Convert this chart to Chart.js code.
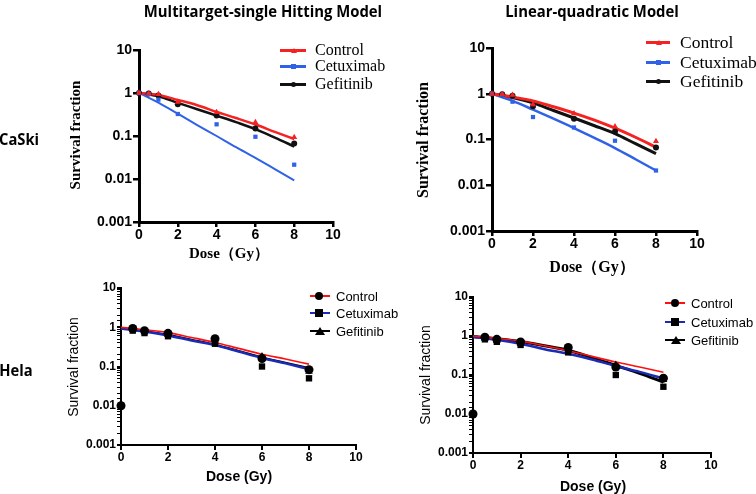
<!DOCTYPE html>
<html><head><meta charset="utf-8">
<script src="https://cdn.jsdelivr.net/npm/chart.js@4.4.1/dist/chart.umd.min.js"></script>
<style>
html,body{margin:0;padding:0;background:#fff;}
#wrap{position:relative;width:756px;height:494px;overflow:hidden;background:#fff;}
canvas{position:absolute;left:0;top:0;}
.t{position:absolute;white-space:nowrap;transform:translate(-50%,-50%);color:#000;line-height:1;}
.rot{transform:translate(-50%,-50%) rotate(-90deg);}
.title{font-family:"Open Sans",sans-serif;font-weight:700;font-size:16.5px;transform:translate(-50%,-50%) scaleX(0.9);}
.row{font-family:"Open Sans",sans-serif;font-weight:700;font-size:16px;transform:translate(-50%,-50%) scaleX(0.92);}
.serifb{font-family:"Liberation Serif","Times New Roman",serif;font-weight:700;font-size:15px;}
.sans{font-family:"Liberation Sans",Arial,sans-serif;font-size:14px;}
.sansb{font-family:"Liberation Sans",Arial,sans-serif;font-weight:700;font-size:14px;}
.lg{position:absolute;}
.lg .ln{position:absolute;height:3px;}
.lg .mk{position:absolute;}
.lg .tx{position:absolute;white-space:nowrap;line-height:1;transform:translateY(-50%);}
</style></head>
<body><div id="wrap">
<canvas id="c1" width="756" height="494"></canvas>
<canvas id="c2" width="756" height="494"></canvas>
<canvas id="c3" width="756" height="494"></canvas>
<canvas id="c4" width="756" height="494"></canvas>

<div class="t title" style="left:263px;top:11px;">Multitarget-single Hitting Model</div>
<div class="t title" style="left:592px;top:11px;">Linear-quadratic Model</div>
<div class="t row" style="left:19px;top:139px;">CaSki</div>
<div class="t row" style="left:16px;top:370px;">Hela</div>

<div class="t serifb rot" style="left:75px;top:135px;">Survival fraction</div>
<div class="t serifb" style="left:229px;top:253px;">Dose（Gy）</div>
<div class="t serifb rot" style="left:423px;top:140px;font-size:16px;">Survival fraction</div>
<div class="t serifb" style="left:592px;top:267px;font-size:16px;">Dose（Gy）</div>

<div class="t sans rot" style="left:73px;top:367px;">Survival fraction</div>
<div class="t sansb" style="left:239px;top:476px;">Dose (Gy)</div>
<div class="t sans rot" style="left:425px;top:375px;">Survival fraction</div>
<div class="t sansb" style="left:593px;top:486px;">Dose (Gy)</div>

<div id="legends"></div>
</div>
<script>
// ---------------- data ----------------
const DOSES = [0, 0.5, 1, 2, 4, 6, 8];
const FIT_DOSES = [0, 1, 2, 3, 4, 5, 6, 7, 8];
const X_TICKS = [0, 2, 4, 6, 8, 10];
const Y_TICKS = [0.001, 0.01, 0.1, 1, 10];
const SERIES = ["Control", "Cetuximab", "Gefitinib"];

// CaSki, multitarget-single hitting model
const caskiMtshControlPts = [1, 0.98, 0.93, 0.62, 0.356, 0.21, 0.093];
const caskiMtshCetuximabPts = [1, 0.95, 0.70, 0.325, 0.187, 0.096, 0.0215];
const caskiMtshGefitinibPts = [1, 0.97, 0.88, 0.55, 0.30, 0.15, 0.067];
const caskiMtshControlFit = [1, 0.9, 0.69, 0.52, 0.365, 0.262, 0.185, 0.125, 0.085];
const caskiMtshCetuximabFit = [1, 0.6, 0.33, 0.18, 0.1, 0.055, 0.031, 0.017, 0.0093];
const caskiMtshGefitinibFit = [1, 0.84, 0.59, 0.42, 0.297, 0.21, 0.145, 0.092, 0.057];

// CaSki, linear-quadratic model
const caskiLqControlPts = [1, 0.97, 0.94, 0.58, 0.37, 0.193, 0.091];
const caskiLqCetuximabPts = [1, 0.95, 0.67, 0.31, 0.183, 0.094, 0.021];
const caskiLqGefitinibPts = [1, 0.97, 0.9, 0.53, 0.284, 0.15, 0.067];
const caskiLqControlFit = [1, 0.85, 0.70, 0.52, 0.378, 0.265, 0.177, 0.112, 0.068];
const caskiLqCetuximabFit = [1, 0.7, 0.45, 0.285, 0.178, 0.108, 0.065, 0.037, 0.021];
const caskiLqGefitinibFit = [1, 0.83, 0.63, 0.43, 0.295, 0.2, 0.134, 0.081, 0.049];

// Hela (measured points, both models)
const helaControlPts = [0.01, 0.93, 0.82, 0.70, 0.51, 0.16, 0.083];
const helaCetuximabPts = [0.01, 0.82, 0.71, 0.59, 0.38, 0.10, 0.05];
const helaGefitinibPts = [0.01, 0.88, 0.76, 0.64, 0.44, 0.18, 0.075];
// Hela fits
const helaMtshControlFit = [1, 0.86, 0.73, 0.55, 0.41, 0.29, 0.205, 0.155, 0.115];
const helaMtshCetuximabFit = [0.93, 0.78, 0.62, 0.46, 0.35, 0.24, 0.165, 0.12, 0.086];
const helaMtshGefitinibFit = [0.95, 0.8, 0.64, 0.48, 0.36, 0.25, 0.17, 0.125, 0.092];
const helaLqControlFit = [1, 0.87, 0.74, 0.56, 0.42, 0.3, 0.215, 0.16, 0.118];
const helaLqCetuximabFit = [0.95, 0.79, 0.63, 0.46, 0.35, 0.25, 0.17, 0.12, 0.082];
const helaLqGefitinibFit = [0.97, 0.85, 0.72, 0.56, 0.43, 0.28, 0.175, 0.11, 0.066];

// ---------------- helpers ----------------
const xy = (xs, ys) => xs.map((x, i) => ({x: x, y: ys[i]}));
const isDecade = v => Math.abs(Math.log10(v) - Math.round(Math.log10(v))) < 1e-6;
const W = 756, H = 494, YW = 60, XH = 30;

function makeChart(id, area, sets, style) {
  const datasets = [];
  sets.forEach((s, i) => {
    datasets.push({
      label: s.name + " fit", data: xy(FIT_DOSES, s.fit), showLine: true,
      borderColor: s.lineColor, borderWidth: s.lineWidth, pointRadius: 0,
      cubicInterpolationMode: "monotone", fill: false, order: 2
    });
  });
  sets.forEach((s, i) => {
    datasets.push({
      label: s.name, data: xy(DOSES, s.pts), showLine: false,
      pointStyle: s.marker, pointRadius: s.radius, pointBorderWidth: 0,
      backgroundColor: s.markerColor, borderColor: s.markerColor, order: 1, clip: false
    });
  });
  const tickFont = {family: "'Liberation Sans', Arial, sans-serif", weight: "bold", size: style.tickSize};
  new Chart(document.getElementById(id), {
    type: "scatter",
    data: {datasets: datasets},
    options: {
      responsive: false, animation: false, devicePixelRatio: 1,
      layout: {padding: {left: area.l - YW, right: W - area.r, top: area.t, bottom: H - area.b - XH}},
      plugins: {legend: {display: false}, tooltip: {enabled: false}},
      scales: {
        x: {
          type: "linear", min: 0, max: 10,
          afterFit: s => { s.height = XH; },
          afterBuildTicks: s => { s.ticks = X_TICKS.map(v => ({value: v})); },
          border: {display: true, color: "#000", width: style.axisWidth},
          grid: {display: true, drawOnChartArea: false, drawTicks: true, tickLength: 5, color: "#000", lineWidth: style.tickWidth},
          ticks: {color: "#000", font: tickFont, padding: 0, maxRotation: 0, autoSkip: false}
        },
        y: {
          type: "logarithmic", min: 0.001, max: 10,
          afterFit: s => { s.width = YW; },
          afterBuildTicks: s => {
            if (!style.minor) s.ticks = Y_TICKS.map(v => ({value: v}));
          },
          border: {display: true, color: "#000", width: style.axisWidth},
          grid: {display: true, drawOnChartArea: false, drawTicks: true, tickLength: style.minor ? 4 : 6, color: "#000",
                 lineWidth: c => (c.tick && isDecade(c.tick.value)) ? style.tickWidth : 1},
          ticks: {color: "#000", font: tickFont, padding: 1, autoSkip: false,
                  callback: v => isDecade(v) ? String(Number(v.toPrecision(1))) : ""}
        }
      }
    }
  });
}

const topStyle = {tickSize: 14, axisWidth: 3, tickWidth: 2.5, minor: false};
const botStyle = {tickSize: 12, axisWidth: 2, tickWidth: 2, minor: true};
const RED = "#f52222", BLUE = "#2f62e6", DBLUE = "#1a2cb5";

makeChart("c1", {l: 139, r: 333, t: 50, b: 222}, [
  {name: "Control", pts: caskiMtshControlPts, fit: caskiMtshControlFit, lineColor: RED, lineWidth: 2.5, marker: "triangle", radius: 3.5, markerColor: RED},
  {name: "Cetuximab", pts: caskiMtshCetuximabPts, fit: caskiMtshCetuximabFit, lineColor: BLUE, lineWidth: 2, marker: "rect", radius: 3, markerColor: BLUE},
  {name: "Gefitinib", pts: caskiMtshGefitinibPts, fit: caskiMtshGefitinibFit, lineColor: "#111", lineWidth: 2.5, marker: "circle", radius: 3, markerColor: "#111"}
], topStyle);

makeChart("c2", {l: 492, r: 697, t: 48, b: 231}, [
  {name: "Control", pts: caskiLqControlPts, fit: caskiLqControlFit, lineColor: RED, lineWidth: 3, marker: "triangle", radius: 3.5, markerColor: RED},
  {name: "Cetuximab", pts: caskiLqCetuximabPts, fit: caskiLqCetuximabFit, lineColor: BLUE, lineWidth: 2.5, marker: "rect", radius: 3, markerColor: BLUE},
  {name: "Gefitinib", pts: caskiLqGefitinibPts, fit: caskiLqGefitinibFit, lineColor: "#111", lineWidth: 3, marker: "circle", radius: 3, markerColor: "#111"}
], topStyle);

makeChart("c3", {l: 121, r: 356, t: 288, b: 445}, [
  {name: "Control", pts: helaControlPts, fit: helaMtshControlFit, lineColor: "#ff1010", lineWidth: 1.6, marker: "circle", radius: 4.5, markerColor: "#000"},
  {name: "Cetuximab", pts: helaCetuximabPts, fit: helaMtshCetuximabFit, lineColor: DBLUE, lineWidth: 2.5, marker: "rect", radius: 4.5, markerColor: "#000"},
  {name: "Gefitinib", pts: helaGefitinibPts, fit: helaMtshGefitinibFit, lineColor: "#000", lineWidth: 2, marker: "triangle", radius: 4.5, markerColor: "#000"}
], botStyle);

makeChart("c4", {l: 473, r: 711, t: 297, b: 453}, [
  {name: "Control", pts: helaControlPts, fit: helaLqControlFit, lineColor: "#ff1010", lineWidth: 1.6, marker: "circle", radius: 4.5, markerColor: "#000"},
  {name: "Cetuximab", pts: helaCetuximabPts, fit: helaLqCetuximabFit, lineColor: DBLUE, lineWidth: 2.5, marker: "rect", radius: 4.5, markerColor: "#000"},
  {name: "Gefitinib", pts: helaGefitinibPts, fit: helaLqGefitinibFit, lineColor: "#000", lineWidth: 3, marker: "triangle", radius: 4.5, markerColor: "#000"}
], botStyle);

// ---------------- legends (HTML) ----------------
function markerHTML(kind, size, color) {
  if (kind === "triangle")
    return `<div style="width:0;height:0;border-left:${size/2+1}px solid transparent;border-right:${size/2+1}px solid transparent;border-bottom:${size}px solid ${color};"></div>`;
  const r = kind === "circle" ? "50%" : "0";
  return `<div style="width:${size}px;height:${size}px;background:${color};border-radius:${r};"></div>`;
}
function legend(opt) {
  let html = "";
  SERIES.forEach((name, i) => {
    const y = opt.ys[i];
    html += `<div class="ln" style="left:${opt.x0}px;top:${y - opt.lw/2}px;width:${opt.x1 - opt.x0}px;height:${opt.lw}px;background:${opt.colors[i]};"></div>`;
    html += `<div class="mk" style="left:${opt.mx - opt.ms/2}px;top:${y - opt.ms/2}px;">${markerHTML(opt.markers[i], opt.ms, opt.mcolors[i])}</div>`;
    html += `<div class="tx" style="left:${opt.tx}px;top:${y}px;font:${opt.font};">${name}</div>`;
  });
  const d = document.createElement("div");
  d.className = "lg"; d.innerHTML = html;
  document.getElementById("legends").appendChild(d);
}
legend({x0: 280, x1: 306, mx: 293, ms: 5, lw: 3, ys: [50, 66, 84], tx: 315,
  colors: [RED, BLUE, "#111"], mcolors: [RED, BLUE, "#111"], markers: ["triangle", "rect", "circle"],
  font: "16px 'Liberation Serif', serif"});
legend({x0: 646, x1: 670, mx: 658, ms: 5, lw: 3, ys: [42, 62, 81], tx: 680,
  colors: [RED, BLUE, "#111"], mcolors: [RED, BLUE, "#111"], markers: ["triangle", "rect", "circle"],
  font: "17.5px 'Liberation Serif', serif"});
legend({x0: 310, x1: 330, mx: 319, ms: 8, lw: 2, ys: [296, 313, 331], tx: 336,
  colors: ["#ff1010", DBLUE, "#000"], mcolors: ["#000", "#000", "#000"], markers: ["circle", "rect", "triangle"],
  font: "13px 'Liberation Sans', Arial, sans-serif"});
legend({x0: 665, x1: 685, mx: 675, ms: 8, lw: 2, ys: [303, 322, 340], tx: 691,
  colors: ["#ff1010", DBLUE, "#000"], mcolors: ["#000", "#000", "#000"], markers: ["circle", "rect", "triangle"],
  font: "13px 'Liberation Sans', Arial, sans-serif"});
</script>
</body></html>
